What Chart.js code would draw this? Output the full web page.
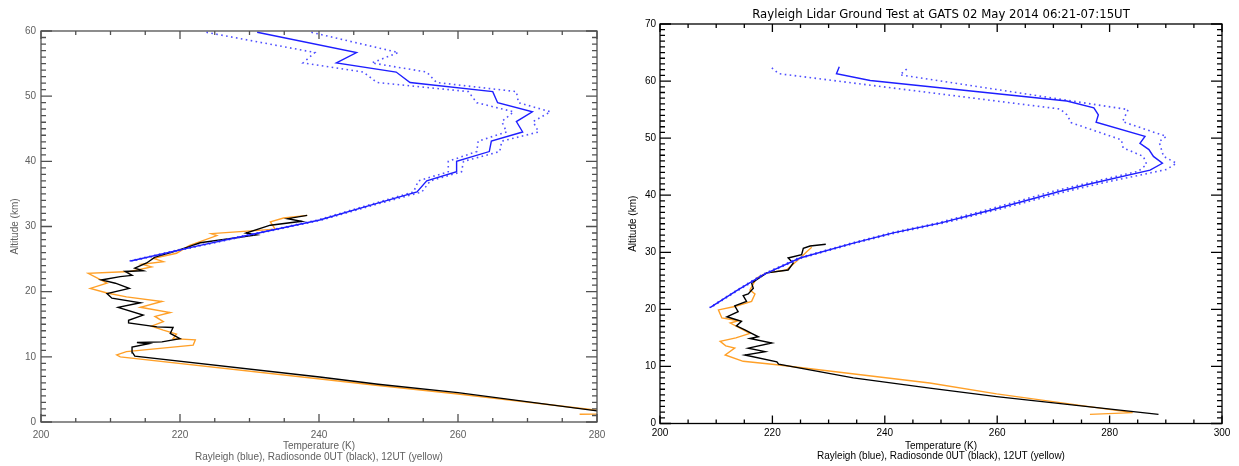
<!DOCTYPE html>
<html>
<head>
<meta charset="utf-8">
<script src="https://cdn.jsdelivr.net/npm/chart.js@4.4.1/dist/chart.umd.min.js"></script>
<style>
  html, body { margin: 0; padding: 0; background: #fff; }
  body { width: 1239px; height: 466px; position: relative; overflow: hidden; }
  canvas { position: absolute; top: 0; }
  #left { left: 0; }
  #right { left: 620px; }
</style>
</head>
<body>
<canvas id="left" width="620" height="466"></canvas>
<canvas id="right" width="619" height="466"></canvas>
<script>
// ---- left panel: lidar profile (solid) and its error bounds (dotted)
const leftLidarAlt = [59.8, 56.7, 55.1, 53.7, 52.1, 50.7, 49.0, 47.6, 46.1, 44.5, 43.1, 41.5, 40.0, 38.4, 37.0, 35.3, 33.5, 31.0, 29.0, 27.1, 24.7];
const leftLidarT   = [231.1, 245.4, 242.5, 251.1, 253.1, 265.0, 265.7, 270.7, 268.4, 269.3, 264.8, 264.5, 259.8, 259.8, 255.5, 254.1, 248.2, 240.1, 231.3, 222.9, 212.9];
const leftLidarHi  = [238.9, 251.4, 247.6, 255.5, 256.9, 268.4, 268.7, 273.3, 270.8, 271.6, 266.3, 266.0, 260.8, 260.5, 256.0, 254.8, 248.6, 240.4, 231.6, 223.2, 213.1];
const leftLidarLo  = [223.8, 239.4, 237.7, 246.4, 248.3, 261.5, 262.7, 268.0, 266.3, 267.0, 262.9, 262.7, 258.6, 258.6, 254.3, 253.6, 247.8, 239.8, 231.0, 222.6, 212.7];

// radiosonde 0UT (black)
const leftSonde0Alt = [1.7, 4.5, 5.8, 6.9, 10.1, 10.6, 11.5, 12.0, 12.2, 12.3, 12.8, 13.6, 14.5, 14.6, 15.2, 15.6, 16.4, 17.6, 18.3, 19.0, 19.7, 20.5, 21.3, 21.8, 22.3, 22.5, 23.1, 23.2, 23.6, 24.4, 25.3, 26.1, 26.8, 27.5, 28.7, 29.0, 30.2, 30.8, 31.2, 31.7];
const leftSonde0T   = [280.0, 260.0, 248.5, 240.1, 213.5, 213.2, 213.1, 215.5, 213.8, 217.4, 220.0, 218.6, 219.0, 216.7, 212.6, 212.6, 214.7, 211.1, 214.3, 210.2, 209.5, 212.7, 210.7, 208.7, 211.4, 213.1, 212.1, 214.7, 213.5, 215.2, 216.4, 219.0, 221.0, 222.9, 231.0, 229.5, 233.0, 237.5, 235.5, 238.3];

// radiosonde 12UT (yellow)
const leftSonde12Alt = [1.2, 1.3, 4.3, 5.6, 6.6, 10.0, 10.3, 10.8, 11.8, 12.6, 12.8, 13.5, 14.1, 14.7, 15.4, 16.2, 16.8, 17.6, 18.5, 19.2, 19.8, 20.5, 21.3, 22.8, 23.1, 23.8, 24.2, 24.6, 25.1, 25.9, 27.1, 28.6, 28.9, 29.6, 30.7, 31.3, 31.7];
const leftSonde12T   = [277.5, 284.0, 260.0, 248.5, 240.2, 211.4, 210.9, 212.3, 221.9, 222.2, 219.0, 219.5, 217.6, 215.9, 217.6, 216.4, 218.6, 214.3, 217.4, 212.3, 209.5, 207.1, 209.5, 206.8, 212.8, 215.9, 214.5, 217.6, 216.2, 219.5, 221.4, 225.3, 224.5, 233.7, 233.0, 234.9, 238.3];

// ---- right panel
const rightLidarAlt = [62.5, 61.3, 60.1, 56.5, 55.3, 54.1, 52.8, 50.3, 49.1, 48.0, 46.8, 45.6, 44.4, 42.1, 40.7, 37.5, 35.1, 33.4, 31.6, 29.0, 26.1, 23.2, 20.3];
const rightLidarT   = [231.9, 231.4, 237.4, 272.4, 277.2, 278.0, 277.6, 286.3, 285.4, 287.0, 287.8, 289.4, 287.2, 277.0, 271.2, 259.3, 249.8, 241.5, 234.4, 224.9, 218.4, 213.5, 208.9];
const rightHiAlt = [62.1, 61.1, 55.0, 52.9, 50.3, 49.4, 46.8, 45.6, 44.5, 42.1, 40.7, 37.5, 35.1, 33.4, 31.6, 29.0, 26.1, 23.2, 20.3];
const rightHiT   = [243.9, 242.7, 283.3, 282.3, 290.1, 288.8, 289.6, 291.9, 290.1, 278.5, 272.5, 260.2, 250.4, 242.0, 234.8, 225.2, 218.6, 213.7, 209.0];
const rightLoAlt = [62.3, 61.3, 55.1, 54.1, 52.7, 49.7, 48.3, 46.8, 45.4, 44.2, 42.1, 40.7, 37.5, 35.1, 33.4, 31.6, 29.0, 26.1, 23.2, 20.3];
const rightLoT   = [219.9, 221.1, 271.2, 272.4, 273.2, 282.1, 282.4, 286.0, 286.6, 285.1, 276.0, 270.0, 258.4, 249.2, 241.0, 234.0, 224.6, 218.2, 213.4, 208.8];

const rightSonde0Alt = [1.6, 4.7, 6.2, 8.0, 10.4, 10.8, 12.0, 12.6, 13.2, 14.1, 14.9, 15.2, 15.8, 16.4, 17.1, 17.9, 18.7, 19.6, 20.6, 21.4, 22.4, 22.7, 23.7, 24.6, 25.2, 26.4, 26.9, 28.1, 29.0, 29.6, 30.7, 31.1, 31.4];
const rightSonde0T   = [288.7, 259.9, 248.0, 234.4, 221.1, 220.8, 215.1, 218.7, 215.7, 219.9, 216.0, 217.5, 216.3, 215.1, 213.6, 214.5, 211.9, 213.9, 213.3, 215.4, 214.8, 215.7, 216.6, 216.3, 217.2, 219.0, 222.8, 223.7, 222.8, 225.2, 225.5, 226.7, 229.5];

const rightSonde12Alt = [1.6, 1.9, 5.2, 7.1, 10.3, 10.9, 12.0, 13.2, 13.6, 14.4, 15.0, 15.8, 17.6, 18.0, 18.5, 19.9, 20.5, 21.4, 22.7, 23.4, 25.5, 26.4, 26.9, 29.2, 30.1, 30.9];
const rightSonde12T   = [276.5, 284.1, 259.9, 248.0, 220.8, 214.8, 211.6, 213.3, 211.7, 210.7, 213.5, 216.0, 212.5, 214.0, 211.0, 210.4, 213.3, 216.3, 216.9, 216.0, 217.2, 219.0, 222.5, 225.2, 226.1, 227.0];

const xLabel = ['Temperature (K)', 'Rayleigh (blue), Radiosonde 0UT (black), 12UT (yellow)'];
const rightTitle = 'Rayleigh Lidar Ground Test at GATS 02 May 2014 06:21-07:15UT';

const FONT = "'Liberation Sans', Arial, sans-serif";
const BLUE = 'rgb(30,30,255)';
const DOT_BLUE = 'rgb(80,80,255)';
const ORANGE = 'rgb(255,160,40)';

function pts(ts, alts) {
    return ts.map((t, i) => ({ x: t, y: alts[i] }));
}

function series(ts, alts, color, dotted) {
    return {
        data: pts(ts, alts),
        showLine: true,
        borderColor: color,
        borderWidth: dotted ? 1.6 : 1.4,
        borderDash: dotted ? [1.6, 3.4] : [],
        pointRadius: 0,
        tension: 0,
        fill: false
    };
}

// IDL-style frame with inward ticks on all four sides
const idlAxes = {
    id: 'idlAxes',
    afterDraw(chart, args, opts) {
        const { ctx, chartArea: a, scales: { x, y } } = chart;
        ctx.save();
        ctx.strokeStyle = opts.color;
        ctx.lineWidth = 1.3;
        ctx.strokeRect(a.left, a.top, a.right - a.left, a.bottom - a.top);
        ctx.beginPath();
        for (let v = x.min; v <= x.max; v += 5) {
            const px = x.getPixelForValue(v);
            const len = v % 20 === 0 ? 8 : 4;
            ctx.moveTo(px, a.bottom); ctx.lineTo(px, a.bottom - len);
            ctx.moveTo(px, a.top); ctx.lineTo(px, a.top + len);
        }
        for (let v = y.min; v <= y.max; v += 1) {
            const py = y.getPixelForValue(v);
            const len = v % 10 === 0 ? 11 : 5;
            ctx.moveTo(a.left, py); ctx.lineTo(a.left + len, py);
            ctx.moveTo(a.right, py); ctx.lineTo(a.right - len, py);
        }
        ctx.stroke();
        ctx.restore();
    }
};

function makeConfig(p) {
    return {
        type: 'scatter',
        data: { datasets: p.datasets },
        plugins: [idlAxes],
        options: {
            responsive: false,
            animation: false,
            events: [],
            layout: { padding: p.padding },
            plugins: {
                legend: { display: false },
                tooltip: { enabled: false },
                title: p.title ? {
                    display: true, text: p.title, fullSize: false, color: p.text,
                    font: { family: "'DejaVu Sans', sans-serif", size: 11.7, weight: 'normal', lineHeight: 1.2 },
                    padding: { top: 8, bottom: 1.96 }
                } : { display: false },
                idlAxes: { color: p.frame }
            },
            scales: {
                x: {
                    type: 'linear', min: 200, max: p.xMax,
                    grid: { display: false, drawTicks: false },
                    border: { display: false },
                    ticks: { stepSize: 20, color: p.text, padding: p.xTickPad, maxRotation: 0,
                             font: { family: FONT, size: 10, lineHeight: 1.2 } },
                    title: { display: true, text: xLabel, color: p.text,
                             font: { family: FONT, size: 10, lineHeight: 1.06 },
                             padding: { top: 0, bottom: p.xTitlePad } },
                    afterFit(s) { s.height = p.xHeight; }
                },
                y: {
                    type: 'linear', min: 0, max: p.yMax,
                    grid: { display: false, drawTicks: false },
                    border: { display: false },
                    ticks: { stepSize: 10, color: p.text, padding: p.yTickPad,
                             font: { family: FONT, size: 10, lineHeight: 1.2 } },
                    title: { display: true, text: 'Altitude (km)', color: p.text,
                             font: { family: FONT, size: 10, lineHeight: 1.2 },
                             padding: { top: p.yTitlePad, bottom: 0 } },
                    afterFit(s) { s.width = p.yWidth; }
                }
            }
        }
    };
}

new Chart(document.getElementById('left').getContext('2d'), makeConfig({
    xMax: 280, yMax: 60,
    text: '#606060', frame: '#505050',
    padding: { left: 0, top: 31, right: 23, bottom: 0 },
    xHeight: 44, yWidth: 41, xTickPad: 7.5, yTickPad: 5, xTitlePad: 3.4, yTitlePad: 9.5,
    datasets: [
        series(leftLidarT, leftLidarAlt, BLUE, false),
        series(leftLidarHi, leftLidarAlt, DOT_BLUE, true),
        series(leftLidarLo, leftLidarAlt, DOT_BLUE, true),
        series(leftSonde0T, leftSonde0Alt, '#000000', false),
        series(leftSonde12T, leftSonde12Alt, ORANGE, false)
    ]
}));

new Chart(document.getElementById('right').getContext('2d'), makeConfig({
    xMax: 300, yMax: 70,
    text: '#000000', frame: '#000000',
    title: rightTitle,
    padding: { left: 0, top: 0, right: 17, bottom: 0 },
    xHeight: 42.5, yWidth: 40, xTickPad: 4, yTickPad: 4, xTitlePad: 4, yTitlePad: 7.5,
    datasets: [
        series(rightLidarT, rightLidarAlt, BLUE, false),
        series(rightHiT, rightHiAlt, DOT_BLUE, true),
        series(rightLoT, rightLoAlt, DOT_BLUE, true),
        series(rightSonde0T, rightSonde0Alt, '#000000', false),
        series(rightSonde12T, rightSonde12Alt, ORANGE, false)
    ]
}));
</script>
</body>
</html>
